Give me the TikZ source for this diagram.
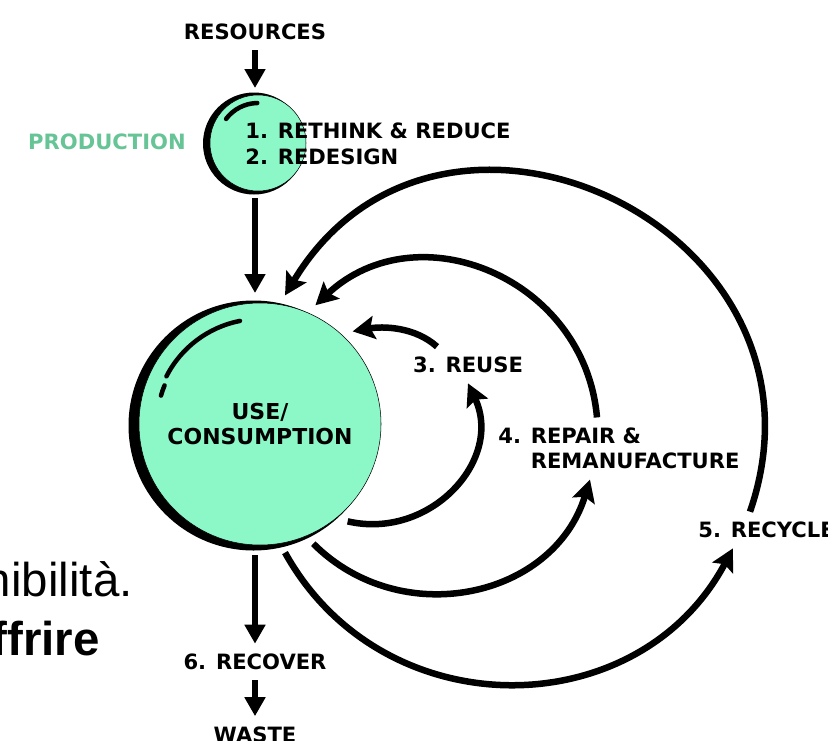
\documentclass[tikz,border=0pt]{standalone}
\usepackage{fontspec}
\setmainfont{DejaVu Sans}
\newfontfamily\slidefont{Liberation Sans}
\usetikzlibrary{arrows.meta}
\definecolor{mint}{RGB}{140,248,200}
\definecolor{leaf}{RGB}{102,196,150}
\tikzset{
    lbl/.style={
        font=\bfseries\fontsize{12}{14.5}\selectfont,
        inner sep=0.2cm
    },
    bubble/.style={
        circle, fill=mint, draw=black, line width=0.3pt, inner sep=0
    },
    flow/.style={
        line width=0.13cm,
        -{Stealth[length=0.44cm,width=0.46cm,inset=0.08cm]}
    },
    feed/.style={
        line width=0.13cm,
        -{Triangle[length=0.38cm,width=0.4cm]}
    },
    shine/.style={line width=0.09cm, line cap=round},
    slide/.style={font=\slidefont\fontsize{27}{30}\selectfont, inner sep=0, anchor=base east}
}

\begin{document}
\begin{tikzpicture}
\useasboundingbox (0,0) rectangle (16.56,-14.8);

\node[slide] (side1) at (2.66,-11.92) {nibilità.};
\node[slide, font=\slidefont\bfseries\fontsize{27}{30}\selectfont] (side2) at (2.00,-13.10) {ffrire};

\fill (5.08,-2.87) circle (1.02);
\fill (5.07,-8.51) circle (2.5);

\node[lbl] (res) at (5.10,-0.64) {RESOURCES};
\node[bubble, minimum size=1.92cm, outer sep=0.14cm] (prod) at (5.16,-2.86) {};
\node[lbl, text=leaf] (production) at (2.14,-2.83) {PRODUCTION};
\node[lbl, anchor=west, align=left] (design) at (4.70,-2.88) {1. RETHINK \& REDUCE\\2. REDESIGN};
\node[bubble, lbl, font=\bfseries\fontsize{12.5}{14.5}\selectfont, inner sep=0, minimum size=4.84cm, outer sep=0.2cm, align=center] (use) at (5.20,-8.48) {USE/\\CONSUMPTION};
\node[lbl] (reuse) at (9.36,-7.30) {3. REUSE};
\node[lbl, anchor=west, align=left] (repair) at (9.76,-8.97) {4. REPAIR \&\\\hphantom{4. }REMANUFACTURE};
\node[lbl, anchor=west] (recycle) at (13.76,-10.60) {5. RECYCLE};
\node[lbl] (recover) at (5.10,-13.24) {6. RECOVER};
\node[lbl] (waste) at (5.10,-14.69) {WASTE};

\draw[shine] (prod.center) ++(91:0.8) arc[start angle=91, end angle=143, radius=0.8];
\draw[shine] (use.center) ++(101:2.1) arc[start angle=101, end angle=153, radius=2.1];
\draw[shine] (use.center) ++(158:2.06) arc[start angle=158, end angle=164, radius=2.06];

\draw[feed] (res.south) -- (res.south |- prod.north);
\draw[feed] (res.south |- prod.south) -- (res.south |- use.north);
\draw[feed] (res.south |- use.south) -- (recover.north);
\draw[feed] (recover.south) -- (waste.north);

\path [flow] (use.-48) edge [out=-13, in=-65, looseness=1.18] (reuse.south);
\path [flow] ([xshift=-0.62cm]reuse.north) edge [out=138, in=10, looseness=0.9] (use.45);
\path [flow] (use.-66) edge [out=-45, in=-107, looseness=1.12] ([xshift=2.04cm]repair.south west);
\path [flow] ([xshift=2.18cm]repair.north west) edge [out=95, in=43, looseness=1.18] (use.65);
\path [flow] (use.-79) edge [out=-61, in=-118, looseness=1.15] ([xshift=0.9cm]recycle.south west);
\path [flow] ([xshift=1.24cm]recycle.north west) edge [out=71, in=59, looseness=1.5] (use.79);

\end{tikzpicture}
\end{document}
